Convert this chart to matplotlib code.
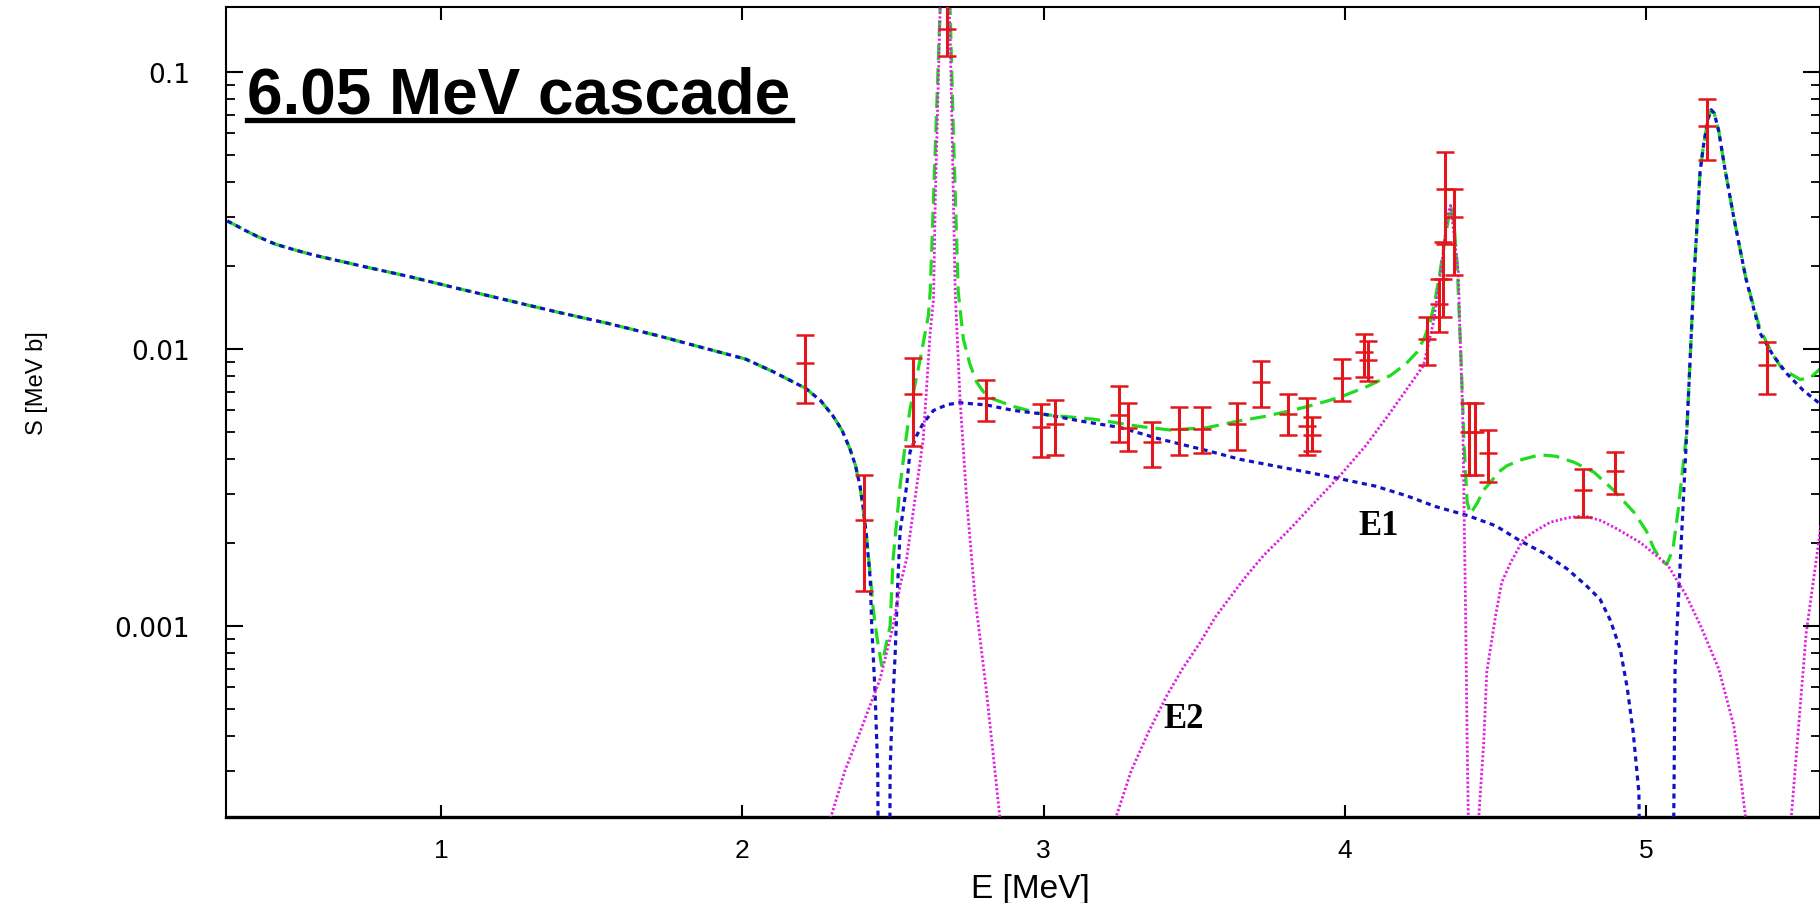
#!/usr/bin/env python3

import matplotlib
matplotlib.use("Agg")
import matplotlib.pyplot as plt
from matplotlib.ticker import FixedLocator, LogLocator, NullFormatter
import numpy as np

# measured points: energy, S, upper and lower end of the error bar
E_data = [2.208, 2.404, 2.565, 2.678, 2.808, 2.991, 3.037, 3.248, 3.28, 3.358,
          3.450, 3.524, 3.640, 3.720, 3.812, 3.873, 3.89, 3.989, 4.063, 4.077,
          4.273, 4.31, 4.325, 4.333, 4.36, 4.41, 4.43, 4.475, 4.789, 4.896,
          5.20, 5.40]
S_data = [0.00887, 0.00242, 0.00688, 0.143, 0.00664, 0.00521, 0.00536, 0.0058, 0.0052, 0.0046,
          0.00514, 0.00514, 0.00536, 0.00762, 0.00582, 0.00529, 0.0049, 0.00785, 0.00973, 0.00912,
          0.0109, 0.0145, 0.0179, 0.0378, 0.0300, 0.0050, 0.0050, 0.0042, 0.0031, 0.00362,
          0.0641, 0.00876]
S_hi = [0.01125, 0.00351, 0.00926, 0.175, 0.00774, 0.00632, 0.00654, 0.00733, 0.00637, 0.00543,
        0.00616, 0.00616, 0.00638, 0.00907, 0.00688, 0.00664, 0.0057, 0.0092, 0.01133, 0.0107,
        0.0131, 0.0179, 0.0243, 0.0515, 0.0378, 0.0064, 0.0064, 0.0051, 0.00369, 0.00426,
        0.0796, 0.0106]
S_lo = [0.00638, 0.00134, 0.00448, 0.1146, 0.00551, 0.00406, 0.00415, 0.0046, 0.0043, 0.00376,
        0.00414, 0.00423, 0.00433, 0.0062, 0.0049, 0.00414, 0.0043, 0.0065, 0.0079, 0.00769,
        0.00876, 0.0115, 0.0130, 0.0239, 0.0185, 0.0035, 0.0035, 0.0033, 0.00248, 0.0030,
        0.0481, 0.00689]

# E1 component (blue)
E1_x = [0.29, 0.32, 0.35, 0.39, 0.45, 0.52, 0.58, 0.73, 0.9, 1.06,
        1.22, 1.39, 1.55, 1.72, 1.87, 2.01, 2.1, 2.21, 2.26, 2.30,
        2.33, 2.357, 2.375, 2.39, 2.40, 2.41, 2.418, 2.424, 2.429, 2.44,
        2.449, 2.456,
        2.485, 2.49, 2.495, 2.507, 2.515, 2.523, 2.545, 2.556, 2.578, 2.60,
        2.634, 2.68, 2.72, 2.81, 2.9, 3.0, 3.12, 3.253, 3.386, 3.541,
        3.65, 3.762, 3.87, 3.983, 4.1, 4.205, 4.3, 4.409, 4.5, 4.581,
        4.66, 4.736, 4.80, 4.846, 4.88, 4.913, 4.936, 4.956, 4.975, 4.99,
        5.08, 5.095, 5.11, 5.134, 5.156, 5.178, 5.19, 5.205, 5.215, 5.225,
        5.24, 5.26, 5.29, 5.33, 5.377, 5.42, 5.466, 5.52, 5.58]
E1_y = [0.029, 0.0279, 0.0268, 0.0255, 0.0239, 0.0227, 0.0218, 0.020, 0.0182, 0.0165,
        0.0150, 0.01356, 0.0124, 0.01117, 0.0101, 0.0092, 0.0083, 0.00721, 0.0065, 0.00574,
        0.0051, 0.00435, 0.0038, 0.00321, 0.0027, 0.00219, 0.00175, 0.00148, 0.001, 0.000576,
        0.0003, 0.00001,
        0.00001, 0.0003, 0.000436, 0.000805, 0.0014, 0.00219, 0.00321, 0.00425, 0.00487, 0.0054,
        0.0060, 0.0063, 0.0064, 0.00628, 0.0060, 0.00582, 0.0055, 0.00521, 0.00473, 0.0043,
        0.0040, 0.00379, 0.0036, 0.0034, 0.0032, 0.00295, 0.0027, 0.0025, 0.0023, 0.00203,
        0.00183, 0.00161, 0.0014, 0.00125, 0.00105, 0.000826, 0.0006, 0.000414, 0.00025, 0.00001,
        0.00001, 0.0007, 0.00152, 0.00506, 0.0167, 0.0437, 0.055, 0.068, 0.073, 0.071,
        0.0612, 0.045, 0.0298, 0.018, 0.01142, 0.0095, 0.00815, 0.0071, 0.00629]

# E2 component (magenta)
E2_x = [2.28, 2.291, 2.34, 2.39, 2.457, 2.50, 2.523, 2.545, 2.60, 2.623,
        2.634, 2.64, 2.656, 2.672, 2.686, 2.69, 2.706, 2.722, 2.744, 2.771,
        2.81, 2.855, 2.87,
        3.22, 3.237, 3.29, 3.347, 3.408, 3.46, 3.519, 3.57, 3.63, 3.673,
        3.73, 3.784, 3.817, 3.9, 3.983, 4.07, 4.15, 4.21, 4.26, 4.293,
        4.32, 4.34, 4.35, 4.376, 4.38, 4.39, 4.40, 4.405, 4.409, 4.42,
        4.435, 4.443, 4.46, 4.47, 4.482, 4.50, 4.52, 4.55, 4.592, 4.63,
        4.681, 4.74, 4.792, 4.85, 4.903, 4.98, 5.069, 5.13, 5.18, 5.24,
        5.29, 5.31, 5.33, 5.36,
        5.46, 5.48, 5.53, 5.58]
E2_y = [0.0001, 0.0002, 0.0003, 0.000414, 0.000645, 0.001, 0.0014, 0.00175, 0.00473, 0.0115,
        0.0151, 0.0348, 0.17, 0.6, 0.17, 0.126, 0.0161, 0.0066, 0.00287, 0.00129,
        0.000578, 0.0002, 0.00001,
        0.00001, 0.0002, 0.0003, 0.000413, 0.00056, 0.0007, 0.000873, 0.00108, 0.00132, 0.00152,
        0.0018, 0.00206, 0.00224, 0.0028, 0.00349, 0.0045, 0.0059, 0.0073, 0.00871, 0.01247,
        0.02, 0.0303, 0.033, 0.0189, 0.0125, 0.006, 0.00109, 0.00038, 0.0002, 0.00001,
        0.00001, 0.0002, 0.00038, 0.00068, 0.000826, 0.0011, 0.00144, 0.0017, 0.00206, 0.0022,
        0.00237, 0.00246, 0.0025, 0.0024, 0.00224, 0.002, 0.00167, 0.0013, 0.001, 0.0007,
        0.000436, 0.0003, 0.0002, 0.00001,
        0.00001, 0.0002, 0.00094, 0.00234]

# total (green)
tot_x = [0.29, 0.32, 0.35, 0.39, 0.45, 0.52, 0.58, 0.73, 0.9, 1.06,
         1.22, 1.39, 1.55, 1.72, 1.87, 2.01, 2.1, 2.21, 2.26, 2.30,
         2.33, 2.357, 2.375, 2.39, 2.41, 2.425, 2.434, 2.447, 2.462, 2.476,
         2.49, 2.50, 2.523, 2.54, 2.556, 2.59, 2.617, 2.623, 2.634, 2.656,
         2.672, 2.689, 2.70, 2.716, 2.733, 2.755, 2.777, 2.80, 2.832, 2.9,
         3.0, 3.165, 3.32, 3.42, 3.541, 3.651, 3.73, 3.817, 3.9, 3.983,
         4.07, 4.15, 4.2, 4.238, 4.262, 4.282, 4.299, 4.315, 4.33, 4.35,
         4.362, 4.372, 4.385, 4.395, 4.405, 4.416, 4.44, 4.46, 4.482, 4.51,
         4.537, 4.59, 4.647, 4.70, 4.76, 4.826, 4.89, 4.959, 5.0, 5.025,
         5.05, 5.067, 5.08, 5.089, 5.105, 5.117, 5.134, 5.156, 5.178, 5.19,
         5.205, 5.215, 5.225, 5.24, 5.26, 5.29, 5.33, 5.377, 5.42, 5.45,
         5.51, 5.545, 5.58]
tot_y = [0.029, 0.0279, 0.0268, 0.0255, 0.0239, 0.0227, 0.0218, 0.020, 0.0182, 0.0165,
         0.0150, 0.01356, 0.0124, 0.01117, 0.0101, 0.0092, 0.0083, 0.00721, 0.0065, 0.00574,
         0.0051, 0.00435, 0.0038, 0.0032, 0.0022, 0.0015, 0.00115, 0.0009, 0.00072, 0.00085,
         0.001, 0.00175, 0.0032, 0.0045, 0.00607, 0.0092, 0.0132, 0.0161, 0.0348, 0.17,
         0.6, 0.17, 0.0607, 0.0161, 0.01086, 0.0088, 0.0076, 0.0070, 0.0066, 0.0062,
         0.0058, 0.00558, 0.00525, 0.0051, 0.0052, 0.00551, 0.0057, 0.00598, 0.0063, 0.0067,
         0.0073, 0.00802, 0.0088, 0.00973, 0.0109, 0.01247, 0.0151, 0.019, 0.0243, 0.0329,
         0.028, 0.020, 0.009, 0.0045, 0.0028, 0.00254, 0.0028, 0.0031, 0.0033, 0.0036,
         0.00379, 0.004, 0.00415, 0.0041, 0.0039, 0.00359, 0.0031, 0.00257, 0.0022, 0.0019,
         0.00172, 0.00167, 0.0018, 0.00193, 0.0026, 0.00343, 0.00506, 0.0167, 0.0437, 0.055,
         0.068, 0.073, 0.071, 0.0612, 0.045, 0.0298, 0.018, 0.0118, 0.0095, 0.0085,
         0.00776, 0.0079, 0.00855]

x_ticks = [1, 2, 3, 4, 5]
y_ticks = [0.001, 0.01, 0.1]
y_tick_labels = ["0.001", "0.01", "0.1"]


def main():
    red = "#e3161b"
    green = "#1fdc1f"
    blue = "#1212c4"
    magenta = "#e01fe0"
    sans = ["Liberation Sans", "DejaVu Sans"]

    fig = plt.figure(figsize=(18.2, 9.04), dpi=100)
    ax = fig.add_axes([226 / 1820, 1 - 818 / 904, 1594 / 1820, 810 / 904])
    ax.set_yscale("log")
    ax.set_xlim(0.286, 5.576)
    ax.set_ylim(2.044e-4, 0.1717)

    ax.plot(tot_x, tot_y, color=green, lw=2.3, ls=(0, (5, 2.5)), zorder=2)
    ax.plot(E1_x, E1_y, color=blue, lw=2.3, ls=(0, (1.6, 1.4)), zorder=3)
    ax.plot(E2_x, E2_y, color=magenta, lw=2.0, ls=(0, (0.8, 0.8)), zorder=4)

    S = np.array(S_data)
    yerr = [S - np.array(S_lo), np.array(S_hi) - S]
    ax.errorbar(E_data, S, yerr=yerr, fmt="none", ecolor=red, elinewidth=2.2,
                capsize=6.5, capthick=1.8, zorder=5)
    ax.plot(E_data, S, ls="none", marker="_", ms=13, mew=1.8, color=red, zorder=5)

    # axes, ticks
    for side in ["left", "top", "right"]:
        ax.spines[side].set_linewidth(1.5)
    ax.spines["bottom"].set_linewidth(2.4)

    ax.xaxis.set_major_locator(FixedLocator(x_ticks))
    ax.set_xticklabels([str(t) for t in x_ticks])
    ax.xaxis.set_minor_locator(FixedLocator([]))
    ax.yaxis.set_major_locator(FixedLocator(y_ticks))
    ax.set_yticklabels(y_tick_labels)
    ax.yaxis.set_minor_locator(LogLocator(base=10, subs=np.arange(2, 10)))
    ax.yaxis.set_minor_formatter(NullFormatter())

    ax.tick_params(axis="x", which="major", direction="in", length=9, width=1.5,
                   top=True, pad=15, labelsize=19)
    ax.tick_params(axis="y", which="major", direction="in", length=12, width=1.5,
                   right=True, pad=26, labelsize=19)
    ax.tick_params(axis="y", which="minor", direction="in", length=6.5, width=1.3,
                   right=True)
    for lab in ax.get_xticklabels():
        lab.set_family(sans)
    for lab in ax.get_yticklabels():
        lab.set_family(["DejaVu Sans"])

    fig.text(1030 / 1820, 1 - 890 / 904, "E [MeV]", ha="center", va="center",
             fontsize=24, family=sans)
    fig.text(37 / 1820, 1 - 383 / 904, "S [MeV b]", ha="center", va="center",
             rotation=90, fontsize=17, family=sans)

    # title with underline
    fig.text(247 / 1820, 1 - 114 / 904, "6.05 MeV cascade", ha="left", va="baseline",
             fontsize=46, fontweight="bold",
             family=["Liberation Sans", "DejaVu Sans"])
    fig.add_artist(plt.Line2D([247 / 1820, 792 / 1820], [1 - 121 / 904, 1 - 121 / 904],
                              color="black", lw=3.8, transform=fig.transFigure))

    ax.text(4.043, 0.00215, "E1", fontsize=25, fontweight="bold",
            family=["Liberation Serif", "DejaVu Serif"], ha="left", va="baseline")
    ax.text(3.396, 0.000431, "E2", fontsize=25, fontweight="bold",
            family=["Liberation Serif", "DejaVu Serif"], ha="left", va="baseline")

    fig.savefig("out.png", dpi=100)


if __name__ == "__main__":
    main()
